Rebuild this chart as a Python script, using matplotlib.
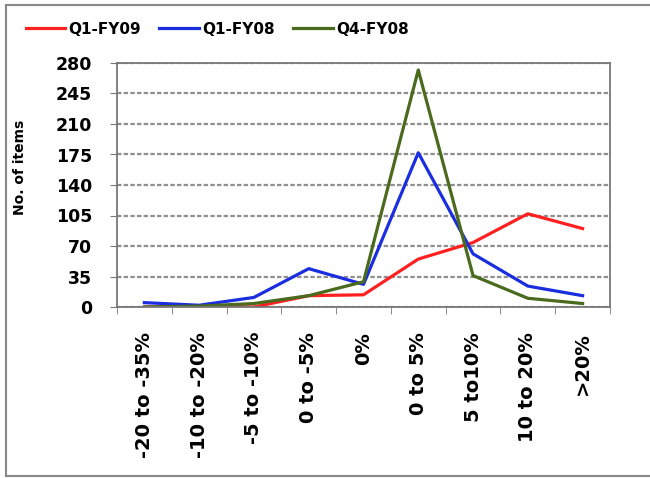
import matplotlib
matplotlib.use("Agg")
import matplotlib.pyplot as plt
from matplotlib.lines import Line2D

categories = ["-20 to -35%", "-10 to -20%", "-5 to -10%", "0 to -5%", "0%",
              "0 to 5%", "5 to10%", "10 to 20%", ">20%"]
q1_fy09 = [0, 1, 0, 13, 14, 55, 74, 107, 90]
q1_fy08 = [5, 2, 11, 44, 26, 177, 61, 24, 13]
q4_fy08 = [0, 1, 4, 13, 29, 272, 36, 10, 4]
yticks = [0, 35, 70, 105, 140, 175, 210, 245, 280]

series = [("Q1-FY09", q1_fy09, "#ff2020"),
          ("Q1-FY08", q1_fy08, "#1a2ee0"),
          ("Q4-FY08", q4_fy08, "#4a6a1e")]

fig = plt.figure(figsize=(6.5, 4.78), dpi=100)
ax = fig.add_axes([117/650, 1-307/478, (610-117)/650, (307-63)/478])

x = list(range(len(categories)))
for name, vals, col in series:
    ax.plot(x, vals, color=col, lw=2.3, label=name, solid_joinstyle="round")

ax.set_xlim(-0.5, len(categories) - 0.5)
ax.set_ylim(0, 280)
ax.set_yticks(yticks)
ax.set_yticklabels([str(t) for t in yticks], fontsize=12.5, fontweight="bold")
ax.set_xticks(x)
ax.set_xticklabels(categories, rotation=90, fontsize=14, fontweight="bold")
ax.tick_params(axis="x", length=0, pad=18)
ax.set_xticks([i + 0.5 for i in range(-1, len(categories))], minor=True)
ax.tick_params(axis="x", which="minor", length=5, color="#777777")
ax.tick_params(axis="y", length=5, color="#777777", pad=13)
ax.grid(axis="y", color="#8f8f8f", lw=1.6, ls=(0, (2, 1)))
ax.set_axisbelow(True)
for s in ax.spines.values():
    s.set_color("#777777")
    s.set_linewidth(1.3)
ax.set_ylabel("No. of items", fontsize=10, fontweight="bold")
ax.yaxis.set_label_coords((27 - 117) / 493, 0.574)

handles = [Line2D([0], [0], color=c, lw=2.3) for _, _, c in series]
fig.legend(handles, [n for n, _, _ in series], loc="upper left",
           bbox_to_anchor=(12/650, 1-8/478), ncol=3, frameon=False,
           prop={"size": 11, "weight": "bold"}, handlelength=2.6,
           handletextpad=0.2, columnspacing=1.2)

# outer chart frame (left, top, bottom visible)
fig.add_artist(Line2D([6/650, 6/650], [1-5/478, 1-476/478], color="#888888", lw=1.5,
                      transform=fig.transFigure))
fig.add_artist(Line2D([6/650, 1], [1-5/478, 1-5/478], color="#888888", lw=1.5,
                      transform=fig.transFigure))
fig.add_artist(Line2D([6/650, 1], [1-476/478, 1-476/478], color="#888888", lw=1.5,
                      transform=fig.transFigure))

fig.savefig("out.png", dpi=100)
